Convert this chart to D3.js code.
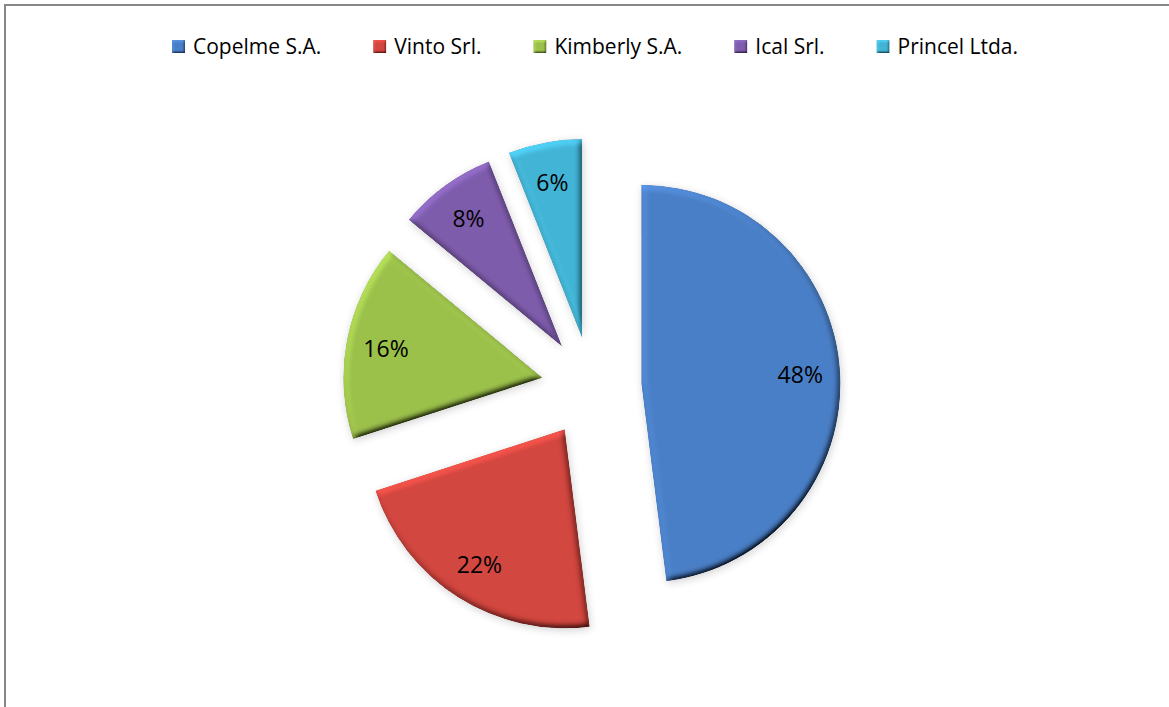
<!DOCTYPE html>
<html>
<head>
<meta charset="utf-8">
<script src="https://cdn.jsdelivr.net/npm/d3@7"></script>
<style>
  html, body { margin: 0; padding: 0; background: #fff; }
  svg { display: block; font-family: "Open Sans", sans-serif; }
</style>
</head>
<body>
<div id="chart"></div>
<script>
// data
const companies = ['Copelme S.A.', 'Vinto Srl.', 'Kimberly S.A.', 'Ical Srl.', 'Princel Ltda.'];
const shares = [48, 22, 16, 8, 6];
const colors = ['#4A7FC6', '#D2463F', '#9CC14B', '#7E5CAC', '#43B5D6'];

const width = 1169, height = 707;
const cx = 591.5, cy = 387;
const radius = 199;
const explode = 50;

const svg = d3.select('#chart')
  .append('svg')
  .attr('width', width)
  .attr('height', height);

const defs = svg.append('defs');

// bevel look
function bevel(id, blur, scale, margin) {
  const f = defs.append('filter').attr('id', id)
    .attr('x', -margin).attr('y', -margin)
    .attr('width', 1 + 2 * margin).attr('height', 1 + 2 * margin);
  f.append('feGaussianBlur').attr('in', 'SourceAlpha').attr('stdDeviation', blur).attr('result', 'blur');
  f.append('feDiffuseLighting').attr('in', 'blur').attr('surfaceScale', scale)
    .attr('diffuseConstant', 1).attr('lighting-color', '#fff').attr('result', 'light')
    .append('feDistantLight').attr('azimuth', 235).attr('elevation', 45);
  f.append('feComposite').attr('in', 'SourceGraphic').attr('in2', 'light')
    .attr('operator', 'arithmetic').attr('k1', 1.414).attr('k2', 0).attr('k3', 0).attr('k4', 0)
    .attr('result', 'shaded');
  f.append('feComposite').attr('in', 'shaded').attr('in2', 'SourceAlpha').attr('operator', 'in');
}
bevel('bevel', 3, 4, 0.1);
bevel('bevelSmall', 1, 1.5, 0.5);

const shadow = defs.append('filter').attr('id', 'shadow')
  .attr('x', '-20%').attr('y', '-20%').attr('width', '140%').attr('height', '140%');
shadow.append('feGaussianBlur').attr('in', 'SourceAlpha').attr('stdDeviation', 4).attr('result', 'b');
shadow.append('feOffset').attr('in', 'b').attr('dx', 1).attr('dy', 2).attr('result', 'o');
shadow.append('feComponentTransfer').attr('in', 'o')
  .append('feFuncA').attr('type', 'linear').attr('slope', 0.18);

// chart frame (runs past right and bottom edges)
svg.append('rect')
  .attr('x', 5).attr('y', 5)
  .attr('width', width + 10).attr('height', height + 10)
  .attr('fill', 'none')
  .attr('stroke', '#878787')
  .attr('stroke-width', 2);

// Pie
const pie = d3.pie().sort(null).value(d => d)(shares);
const arc = d3.arc().innerRadius(0).outerRadius(radius);

const g = svg.append('g').attr('transform', `translate(${cx},${cy})`);

const slices = g.selectAll('g.slice')
  .data(pie)
  .enter()
  .append('g')
  .attr('class', 'slice')
  .attr('transform', d => {
    const a = (d.startAngle + d.endAngle) / 2;
    return `translate(${explode * Math.sin(a)},${-explode * Math.cos(a)})`;
  });

slices.append('path')
  .attr('d', arc)
  .attr('fill', '#000')
  .attr('filter', 'url(#shadow)');

slices.append('path')
  .attr('d', arc)
  .attr('fill', (d, i) => colors[i])
  .attr('filter', 'url(#bevel)');

slices.append('text')
  .attr('x', d => {
    const a = (d.startAngle + d.endAngle) / 2;
    return radius * 0.8 * Math.sin(a);
  })
  .attr('y', d => {
    const a = (d.startAngle + d.endAngle) / 2;
    return -radius * 0.8 * Math.cos(a);
  })
  .attr('text-anchor', 'middle')
  .attr('dominant-baseline', 'central')
  .attr('font-size', 23)
  .attr('fill', '#000')
  .text(d => d.data + '%');

// Legend
const legend = svg.append('g');
const items = legend.selectAll('g')
  .data(companies)
  .enter()
  .append('g');

items.append('rect')
  .attr('width', 13).attr('height', 13)
  .attr('y', 40)
  .attr('fill', (d, i) => colors[i])
  .attr('filter', 'url(#bevelSmall)');

items.append('text')
  .attr('x', 21)
  .attr('y', 54)
  .attr('font-size', 21)
  .attr('fill', '#000')
  .text(d => d);

const widths = [];
items.each(function () { widths.push(21 + this.querySelector('text').getComputedTextLength()); });
const left = 172, right = 1018;
const gap = (right - left - d3.sum(widths)) / (companies.length - 1);
let xPos = left;
items.attr('transform', (d, i) => {
  const t = `translate(${xPos},0)`;
  xPos += widths[i] + gap;
  return t;
});
</script>
</body>
</html>
